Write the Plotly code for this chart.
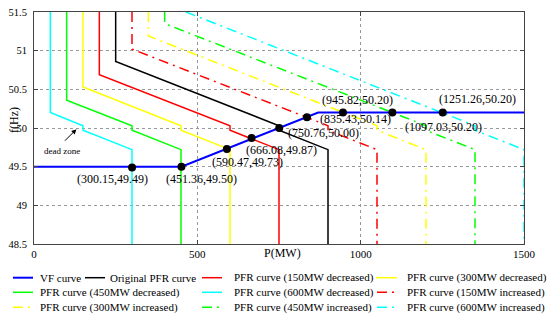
import plotly.graph_objects as go

# ---------------- data ----------------
vf_p = [0, 451.36, 870, 1500]
vf_f = [49.5, 49.5, 50.2, 50.2]

orig_p = [250, 250, 750, 750, 900, 900]
orig_f = [51.5, 50.86, 50.03, 49.97, 49.72, 48.5]

dec150_p = [200, 200, 600, 600, 750, 750]
dec150_f = [51.5, 50.69, 50.03, 49.97, 49.72, 48.5]
dec300_p = [150, 150, 450, 450, 600, 600]
dec300_f = [51.5, 50.53, 50.03, 49.97, 49.72, 48.5]
dec450_p = [100, 100, 300, 300, 450, 450]
dec450_f = [51.5, 50.36, 50.03, 49.97, 49.72, 48.5]
dec600_p = [50, 50, 150, 150, 300, 300]
dec600_f = [51.5, 50.20, 50.03, 49.97, 49.72, 48.5]

inc150_p = [300, 300, 900, 900, 1050, 1050]
inc150_f = [51.5, 51.02, 50.03, 49.97, 49.72, 48.5]
inc300_p = [350, 350, 1050, 1050, 1200, 1200]
inc300_f = [51.5, 51.19, 50.03, 49.97, 49.72, 48.5]
inc450_p = [400, 400, 1200, 1200, 1350, 1350]
inc450_f = [51.5, 51.35, 50.03, 49.97, 49.72, 48.5]
inc600_p = [465, 1350, 1350, 1500, 1500]
inc600_f = [51.5, 50.03, 49.97, 49.72, 48.5]

pt_p = [300.15, 451.36, 590.47, 666.08, 750.76, 835.43, 945.82, 1097.03, 1251.26]
pt_f = [49.49, 49.50, 49.73, 49.87, 50.00, 50.14, 50.20, 50.20, 50.20]
pt_label = ["(300.15,49.49)", "(451.36,49.50)", "(590.47,49.73)", "(666.08,49.87)",
            "(750.76,50.00)", "(835.43,50.14)", "(945.82,50.20)", "(1097.03,50.20)",
            "(1251.26,50.20)"]

x_ticks = [0, 500, 1000, 1500]
y_ticks = [48.5, 49, 49.5, 50, 50.5, 51, 51.5]
y_ticktext = ["48.5", "49", "49.5", "50", "50.5", "51", "51.5"]

# ---------------- styles ----------------
DD = "10px,5px,2px,5px"
SERIF = "Liberation Serif, Times New Roman, serif"

curves = [
    ("VF curve", vf_p, vf_f, "#0000FF", "solid", 2),
    ("Original PFR curve", orig_p, orig_f, "#000000", "solid", 1.5),
    ("PFR curve (150MW decreased)", dec150_p, dec150_f, "#FF0000", "solid", 1.5),
    ("PFR curve (300MW decreased)", dec300_p, dec300_f, "#FFFF00", "solid", 1.5),
    ("PFR curve (450MW decreased)", dec450_p, dec450_f, "#00FF00", "solid", 1.5),
    ("PFR curve (600MW decreased)", dec600_p, dec600_f, "#00FFFF", "solid", 1.5),
    ("PFR curve (150MW increased)", inc150_p, inc150_f, "#FF0000", DD, 1.5),
    ("PFR curve (300MW increased)", inc300_p, inc300_f, "#FFFF00", DD, 1.5),
    ("PFR curve (450MW increased)", inc450_p, inc450_f, "#00FF00", DD, 1.5),
    ("PFR curve (600MW increased)", inc600_p, inc600_f, "#00FFFF", DD, 1.5),
]

fig = go.Figure()
# draw PFR curves first, VF curve on top
for name, p, f, col, dash, w in curves[1:] + curves[:1]:
    fig.add_trace(go.Scatter(x=p, y=f, mode="lines", name=name, showlegend=False,
                             line=dict(color=col, dash=dash, width=w)))

fig.add_trace(go.Scatter(x=pt_p, y=pt_f, mode="markers", showlegend=False,
                         marker=dict(color="black", size=8)))

# label offsets (pixels) relative to each point
lab_dx = [-20, 20, 21, 30, 44, 49, 15, 51, 35]
lab_dy = [-12, -12, -13, -12, -5, -2, 13, -14, 14]
for p, f, t, dx, dy in zip(pt_p, pt_f, pt_label, lab_dx, lab_dy):
    fig.add_annotation(x=p, y=f, text=t, showarrow=False, xshift=dx, yshift=dy,
                       font=dict(family=SERIF, size=12, color="black"))

# dead zone arrow + text
fig.add_annotation(x=130, y=49.985, text="", showarrow=True, arrowhead=2, arrowsize=1,
                   arrowwidth=1, arrowcolor="black", ax=-13, ay=13)
fig.add_annotation(x=85, y=49.70, text="dead zone", showarrow=False,
                   font=dict(family=SERIF, size=9, color="black"))

# ---------------- manual legend ----------------
L, R, T, B = 34, 524, 12, 244
def px(x):
    return (x - L) / (R - L)
def py(y):
    return (B - y) / (B - T)

legend_pos = [  # (line x0, line x1, text x, row y)
    (13, 33, 38, 277.7),
    (85, 105, 108, 277.7),
    (202, 222, 232, 277.7),
    (376, 397, 405, 277.7),
    (13, 33, 38, 292.3),
    (202, 222, 232, 292.3),
    (377, 397, 405, 292.3),
    (13, 33, 38, 307.3),
    (202, 222, 232, 307.3),
    (377, 397, 405, 307.3),
]
for idx, (x0, x1, xt, yr) in enumerate(legend_pos):
    name, p, f, col, dash, w = curves[idx]
    fig.add_shape(type="line", xref="paper", yref="paper", x0=px(x0), x1=px(x1),
                  y0=py(yr), y1=py(yr), line=dict(color=col, dash=dash, width=w))
    fig.add_annotation(xref="paper", yref="paper", x=px(xt), y=py(yr), text=name,
                       showarrow=False, xanchor="left", yanchor="middle",
                       font=dict(family=SERIF, size=11, color="black"))

# axis titles
fig.add_annotation(xref="paper", yref="paper", x=px(282), y=py(262), text="P(MW)",
                   showarrow=False, font=dict(family=SERIF, size=12, color="black"))
fig.add_annotation(xref="paper", yref="paper", x=px(5), y=py(120), text="f(Hz)",
                   textangle=-90, showarrow=False,
                   font=dict(family=SERIF, size=12, color="black"))

axis_common = dict(showline=True, linecolor="#444", linewidth=1, mirror="ticks",
                   ticks="inside", ticklen=4, tickcolor="#444", automargin=False,
                   showgrid=True, gridcolor="#999", griddash="dot", gridwidth=1,
                   zeroline=False)

fig.update_layout(
    width=550, height=329,
    margin=dict(l=L, r=550 - R, t=T, b=329 - B, autoexpand=False),
    plot_bgcolor="white", paper_bgcolor="white",
    xaxis=dict(range=[0, 1500], tickvals=x_ticks,
               tickfont=dict(family=SERIF, size=11, color="black"), **axis_common),
    yaxis=dict(range=[48.5, 51.5], tickvals=y_ticks, ticktext=y_ticktext,
               tickfont=dict(family=SERIF, size=10.5, color="black"),
               ticklabelstandoff=4, **axis_common),
    showlegend=False,
)

fig.write_html("out.html", config={"displayModeBar": False},
               post_script="document.body.style.margin='0';")
